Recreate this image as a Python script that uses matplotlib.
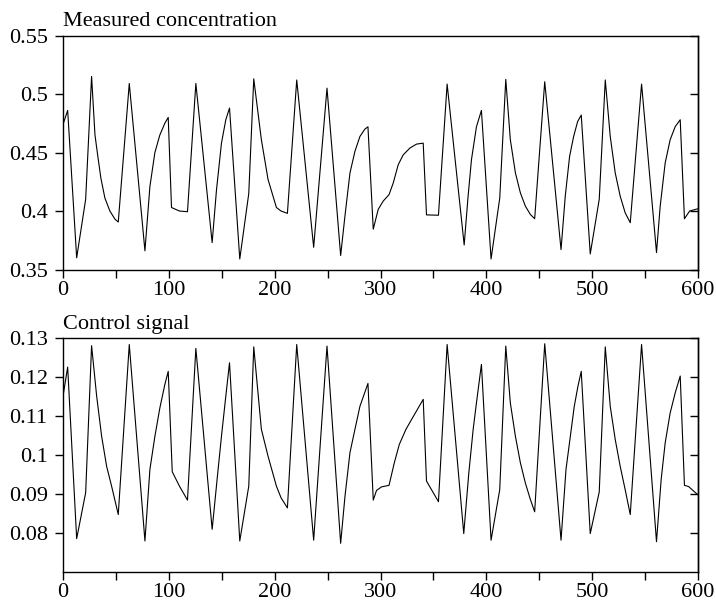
import matplotlib
matplotlib.use("Agg")
from matplotlib import pyplot as plt
import numpy as np

plt.rcParams['font.family'] = ['Liberation Serif', 'DejaVu Serif']

# measured concentration (time, value)
t_conc = [0, 4.4, 12.9, 21.4, 27.0, 30.2, 32.7, 35.8, 39.6, 44.3, 49.1, 52.2,
          62.6, 77.4, 82.1, 86.8, 91.5, 96.2, 99.4, 102.5, 110, 117.6,
          125.5, 140.9, 145.0, 149.7, 153.8, 157.3, 167.0, 175.5, 180.2,
          187.4, 193.7, 201.6, 206, 212.0,
          220.8, 236.8, 249.4, 262.3, 266.4, 271.1, 275.8, 280.5, 285.2, 288.1,
          293.1, 297.8, 302.5, 308.0, 312.0, 316.7, 321.4, 327.7, 334.0, 340.3,
          343.4, 354.7, 362.9, 379.0, 382.7, 385.9, 390.6, 395.3,
          404.4, 412.6, 418.3, 422.6, 427.4, 432.1, 436.8, 441.5, 445.6,
          455.1, 470.5, 474.5, 478.6, 482.4, 486.2, 489.6,
          498.1, 506.6, 512.3, 517.0, 521.7, 526.4, 531.1, 535.9,
          546.6, 560.7, 564.2, 568.9, 573.6, 578.4, 583.1, 587.1, 592, 600]
conc = [0.474, 0.486, 0.360, 0.410, 0.515, 0.465, 0.448, 0.428, 0.411, 0.400, 0.393, 0.3906,
        0.509, 0.366, 0.421, 0.450, 0.465, 0.475, 0.480, 0.403, 0.400, 0.3994,
        0.509, 0.373, 0.418, 0.458, 0.478, 0.488, 0.359, 0.415, 0.513,
        0.461, 0.427, 0.403, 0.400, 0.398,
        0.512, 0.369, 0.505, 0.362, 0.396, 0.4325, 0.451, 0.4637, 0.470, 0.472,
        0.3845, 0.4014, 0.4085, 0.414, 0.424, 0.4396, 0.448, 0.4538, 0.4572, 0.458,
        0.3967, 0.3964, 0.5085, 0.371, 0.4127, 0.444, 0.472, 0.486,
        0.359, 0.411, 0.5125, 0.461, 0.4326, 0.4155, 0.4042, 0.3971, 0.3934,
        0.5105, 0.367, 0.4127, 0.4467, 0.4637, 0.4765, 0.482,
        0.3633, 0.410, 0.512, 0.4637, 0.4326, 0.4127, 0.3985, 0.390,
        0.5085, 0.3645, 0.4042, 0.4411, 0.4609, 0.4722, 0.478, 0.3934, 0.400, 0.402]

# control signal (time, value)
t_ctrl = [0, 4.4, 12.9, 21.4, 27.0, 31.8, 36.5, 41.2, 45.9, 52.2,
          62.6, 77.4, 82.1, 86.8, 91.5, 96.2, 99.4, 103.2, 110, 117.6,
          125.5, 140.9, 145.9, 149.7, 153.8, 157.3, 167.0, 175.5, 180.2,
          187.4, 193.7, 201.6, 206, 212.0,
          220.8, 236.8, 249.4, 262.3, 266.4, 271.1, 275.8, 280.5, 288.1,
          293.1, 296.2, 300.9, 308.0, 313.0, 317.7, 324.0, 330.3, 340.3,
          343.4, 354.7, 362.9, 378.6, 383.4, 387.5, 390.6, 395.3,
          404.4, 412.6, 418.3, 422.6, 427.4, 432.1, 436.8, 441.5, 445.6,
          455.1, 470.5, 475.2, 479.3, 483.0, 486.5, 489.6,
          498.1, 506.6, 512.3, 517.0, 521.7, 526.4, 531.1, 535.9,
          546.6, 560.7, 565.1, 568.9, 573.6, 578.4, 583.1, 587.1, 591, 598.8, 600]
ctrl = [0.1151, 0.1226, 0.0785, 0.0903, 0.1281, 0.1151, 0.1048, 0.0971, 0.0920, 0.0847,
        0.1284, 0.0779, 0.0963, 0.1048, 0.1121, 0.1181, 0.1215, 0.0957, 0.0920, 0.0884,
        0.1274, 0.0809, 0.0946, 0.1048, 0.1151, 0.1237, 0.0779, 0.0920, 0.1278,
        0.1066, 0.0997, 0.0920, 0.0890, 0.0864,
        0.1284, 0.0781, 0.1280, 0.0773, 0.0894, 0.1006, 0.1066, 0.1125, 0.1184,
        0.0884, 0.0909, 0.0918, 0.0922, 0.0980, 0.1027, 0.1066, 0.1096, 0.1143,
        0.0933, 0.0880, 0.1284, 0.0798, 0.0954, 0.1066, 0.1134, 0.1233,
        0.0781, 0.0911, 0.1280, 0.1134, 0.1048, 0.0980, 0.0928, 0.0886, 0.0854,
        0.1286, 0.0781, 0.0963, 0.1048, 0.1125, 0.1177, 0.1215,
        0.0798, 0.0905, 0.1278, 0.1125, 0.1040, 0.0971, 0.0911, 0.0847,
        0.1284, 0.0777, 0.0937, 0.1031, 0.1108, 0.1160, 0.1203, 0.0922, 0.0919, 0.0900, 0.0898]

conc_ticks = [0.35, 0.4, 0.45, 0.5, 0.55]
conc_labels = ['0.35', '0.4', '0.45', '0.5', '0.55']
ctrl_ticks = [0.08, 0.09, 0.1, 0.11, 0.12, 0.13]
ctrl_labels = ['0.08', '0.09', '0.1', '0.11', '0.12', '0.13']
x_ticks = [0, 100, 200, 300, 400, 500, 600]

fig = plt.figure(figsize=(7.16, 6.08), dpi=100)
ax1 = fig.add_axes([0.088, 0.5567, 0.887, 0.3849])
ax2 = fig.add_axes([0.088, 0.0597, 0.887, 0.3839])


def style(ax, ticks, labels, ylim, title):
    ax.set_xlim(0, 600)
    ax.set_ylim(*ylim)
    ax.set_xticks(x_ticks)
    ax.set_xticks(np.arange(50, 600, 100), minor=True)
    ax.set_yticks(ticks)
    ax.set_yticklabels(labels)
    ax.tick_params(axis='both', which='both', direction='out', length=6,
                   width=1, labelsize=16, top=False, right=False)
    ax.tick_params(axis='x', pad=2)
    ax.tick_params(axis='y', pad=5)
    for s in ax.spines.values():
        s.set_linewidth(1)
    sec = ax.secondary_yaxis('right')
    sec.set_yticks(ticks)
    sec.tick_params(direction='in', length=6, width=1, labelright=False)
    sec.spines['right'].set_linewidth(1)
    ax.set_title(title, loc='left', fontsize=16, pad=7)


ax1.plot(t_conc, conc, color='black', linewidth=0.8)
style(ax1, conc_ticks, conc_labels, (0.35, 0.55), 'Measured concentration')

ax2.plot(t_ctrl, ctrl, color='black', linewidth=0.8)
style(ax2, ctrl_ticks, ctrl_labels, (0.07, 0.13), 'Control signal')

plt.savefig('out.png', dpi=100)
